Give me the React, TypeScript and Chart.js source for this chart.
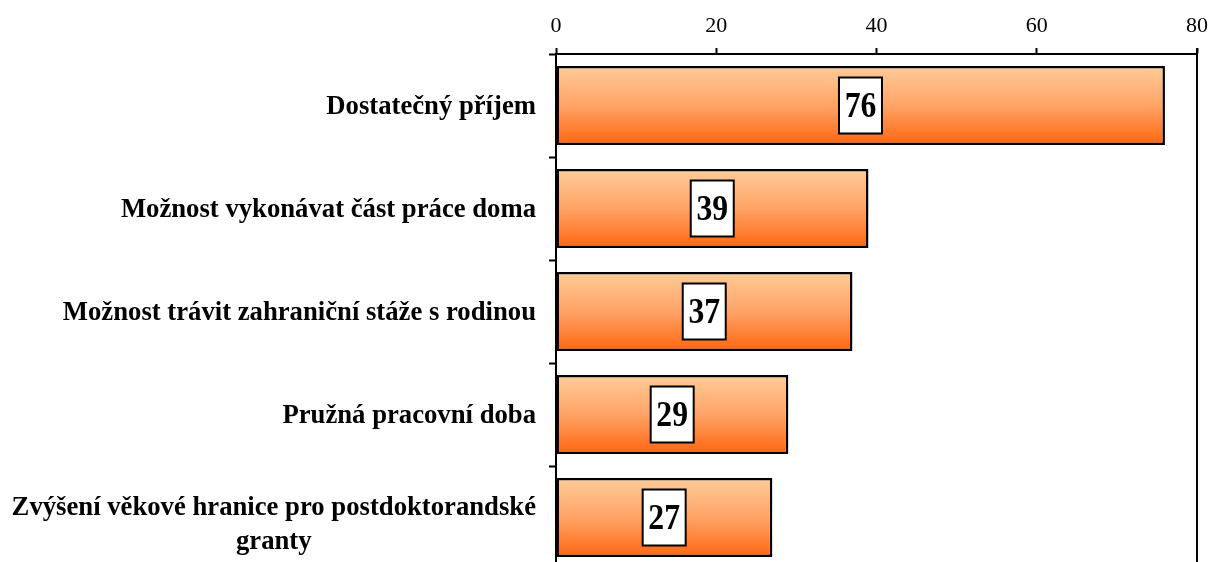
import React, { useEffect, useRef } from "react";
import { Chart, registerables } from "chart.js";

Chart.register(...registerables);

const categories: string[][] = [
  ["Dostatečný příjem"],
  ["Možnost vykonávat část práce doma"],
  ["Možnost trávit zahraniční stáže s rodinou"],
  ["Pružná pracovní doba"],
  ["Zvýšení věkové hranice pro postdoktorandské", "granty"],
];
const values: number[] = [76, 39, 37, 29, 27];
const xTicks: number[] = [0, 20, 40, 60, 80];

const BAR_PCT = 0.767;
const SERIF = '"Liberation Serif", "Times New Roman", serif';

const labelsPlugin = {
  id: "customLabels",
  afterDatasetsDraw(chart: any) {
    const { ctx, scales, chartArea } = chart;
    const y = scales.y;
    const x = scales.x;
    ctx.save();
    // right border line
    ctx.strokeStyle = "#000";
    ctx.lineWidth = 2;
    ctx.beginPath();
    ctx.moveTo(chartArea.right, chartArea.top - 6);
    ctx.lineTo(chartArea.right, chartArea.bottom);
    ctx.stroke();

    // category labels
    ctx.fillStyle = "#000";
    ctx.font = `bold 26.7px ${SERIF}`;
    ctx.textBaseline = "middle";
    ctx.textAlign = "center";
    const rightEdge = chartArea.left - 20;
    const lineH = 34;
    categories.forEach((lines, i) => {
      const cy = y.getPixelForValue(i) + 2;
      const widths = lines.map((l) => ctx.measureText(l).width);
      const maxW = Math.max(...widths);
      const cx = rightEdge - maxW / 2;
      const startY = cy - ((lines.length - 1) * lineH) / 2 + (lines.length > 1 ? 6 : 0);
      lines.forEach((l, k) => {
        ctx.fillText(l, cx, startY + k * lineH);
      });
    });

    // value boxes
    values.forEach((v, i) => {
      const cx = (x.getPixelForValue(0) + x.getPixelForValue(v)) / 2;
      const cy = y.getPixelForValue(i);
      const w = 43;
      const h = 56;
      ctx.fillStyle = "#fff";
      ctx.fillRect(cx - w / 2, cy - h / 2, w, h);
      ctx.strokeStyle = "#000";
      ctx.lineWidth = 2;
      ctx.strokeRect(cx - w / 2, cy - h / 2, w, h);
      ctx.save();
      ctx.translate(cx, cy + 2);
      ctx.scale(0.88, 1);
      ctx.fillStyle = "#000";
      ctx.font = `bold 36px ${SERIF}`;
      ctx.textAlign = "center";
      ctx.textBaseline = "middle";
      ctx.fillText(String(v), 0, 0);
      ctx.restore();
    });
    ctx.restore();
  },
};

export default function App() {
  const ref = useRef<HTMLCanvasElement | null>(null);
  useEffect(() => {
    document.body.style.margin = "0";
    document.body.style.overflow = "hidden";
    const canvas = ref.current!;
    const chart = new Chart(canvas, {
      type: "bar",
      data: {
        labels: categories.map((c) => c.join(" ")),
        datasets: [
          {
            data: values,
            backgroundColor: (c: any) => {
              const ch = c.chart;
              const ys = ch.scales && ch.scales.y;
              if (!ys || c.dataIndex === undefined) return "#FF9955";
              const cy = ys.getPixelForValue(c.dataIndex);
              const h = (ys.height / categories.length) * BAR_PCT;
              if (!isFinite(cy) || !isFinite(h) || h <= 0) return "#FF9955";
              const g = ch.ctx.createLinearGradient(0, cy - h / 2, 0, cy + h / 2);
              g.addColorStop(0, "#FFCC99");
              g.addColorStop(0.5, "#FFA366");
              g.addColorStop(1, "#FF6610");
              return g;
            },
            borderColor: "#000",
            borderWidth: 2.5,
            borderSkipped: false,
            barPercentage: BAR_PCT,
            categoryPercentage: 1,
          },
        ],
      },
      options: {
        indexAxis: "y",
        animation: false,
        responsive: false,
        maintainAspectRatio: false,
        layout: { padding: { left: 0, right: 11, top: 0, bottom: 0 } },
        plugins: {
          legend: { display: false },
          tooltip: { enabled: false },
        },
        scales: {
          x: {
            position: "top",
            min: xTicks[0],
            max: xTicks[xTicks.length - 1],
            afterBuildTicks: (s: any) => {
              s.ticks = xTicks.map((v) => ({ value: v }));
            },
            afterFit: (s: any) => {
              s.height = 54;
              s.paddingLeft = 0;
              s.paddingRight = 0;
            },
            grid: {
              drawOnChartArea: false,
              tickLength: 6,
              tickColor: "#000",
              tickWidth: 2,
            },
            border: { display: true, color: "#000", width: 2 },
            ticks: {
              color: "#000",
              font: { family: SERIF, size: 22 },
              padding: 9,
              maxRotation: 0,
            },
          },
          y: {
            afterFit: (s: any) => {
              s.width = 556;
              s.paddingTop = 0;
              s.paddingBottom = 0;
            },
            grid: {
              offset: true,
              drawOnChartArea: false,
              tickLength: 7,
              tickColor: "#000",
              tickWidth: 2,
            },
            border: { display: true, color: "#000", width: 2 },
            ticks: { display: false },
          },
        },
      },
      plugins: [labelsPlugin],
    } as any);
    return () => chart.destroy();
  }, []);
  return (
    <div style={{ position: "fixed", left: 0, top: 0, width: 1208, height: 562, overflow: "hidden", background: "#fff" }}>
      <canvas ref={ref} width={1208} height={569} style={{ display: "block" }} />
    </div>
  );
}
